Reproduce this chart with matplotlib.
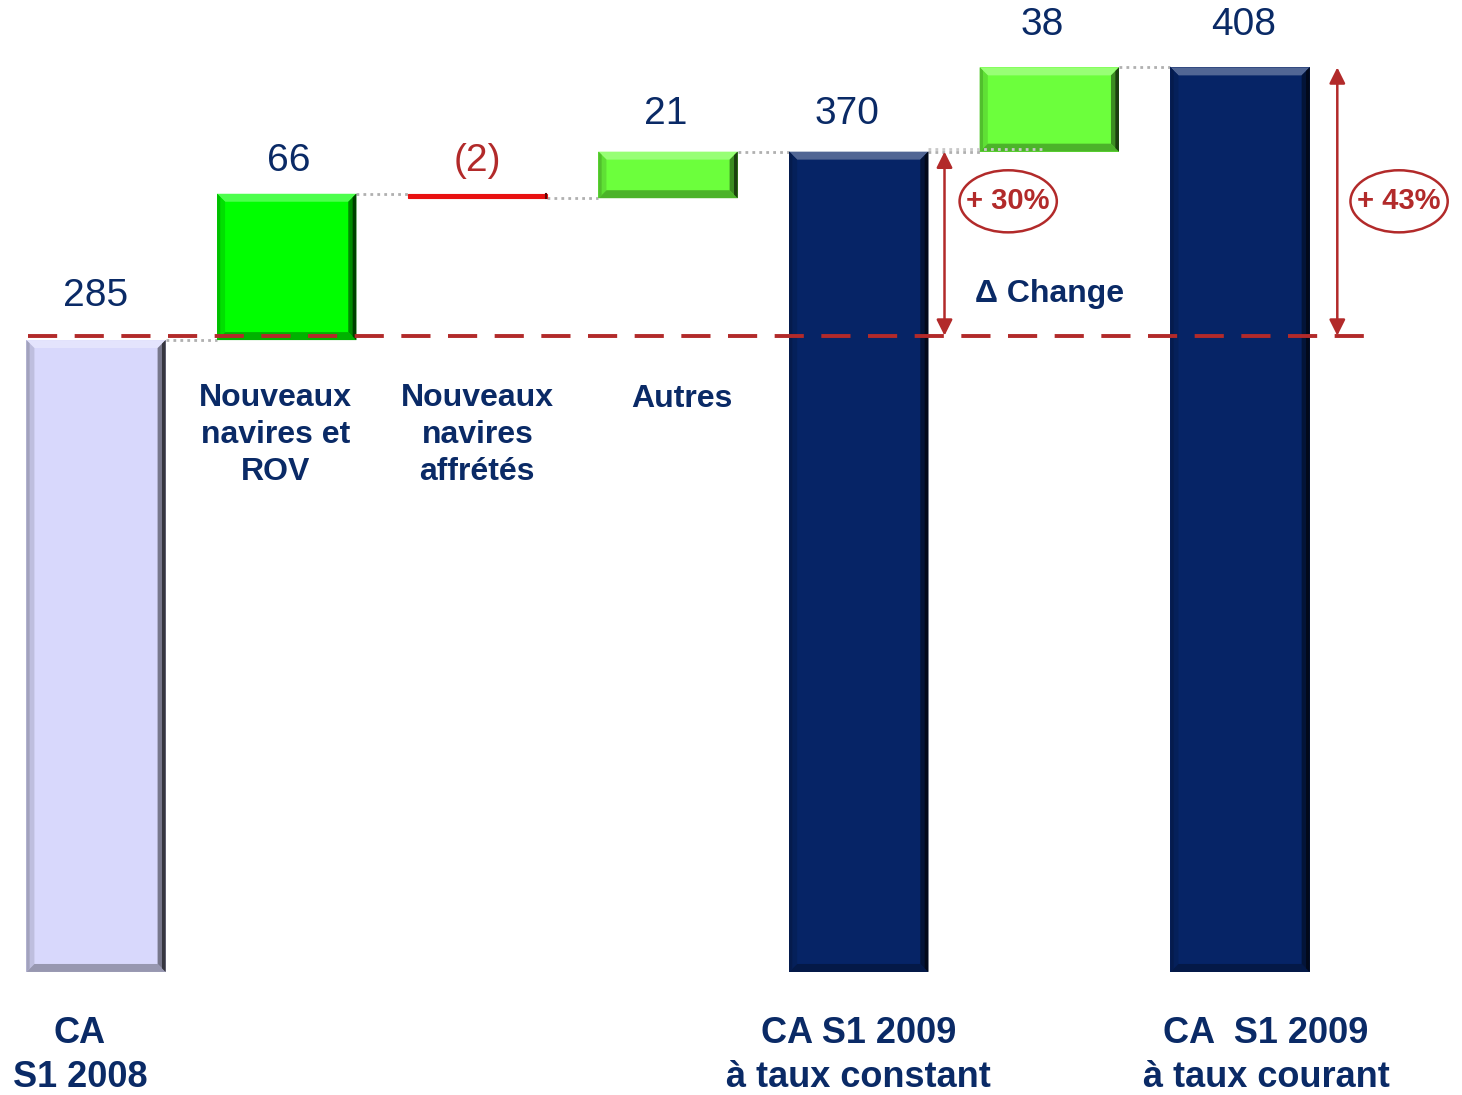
import matplotlib
matplotlib.use("Agg")
import matplotlib.pyplot as plt
from matplotlib.patches import Ellipse
from matplotlib.colors import to_rgb

plt.rcParams['font.family'] = ['Liberation Sans', 'DejaVu Sans']

# ---- data ----
steps = ["CA\nS1 2008", "Nouveaux\nnavires et\nROV", "Nouveaux\nnavires\naffrétés", "Autres",
         "CA S1 2009\nà taux constant", "Δ Change", "CA  S1 2009\nà taux courant"]
values = [285, 66, -2, 21, 370, 38, 408]
kinds = ["total", "delta", "delta", "delta", "total", "delta", "total"]
value_labels = ["285", "66", "(2)", "21", "370", "38", "408"]
pct_labels = ["+ 30%", "+ 43%"]

NAVY = "#0a2a66"
RED = "#b22a2a"
colors = ["#d8d8fc", "#00ff00", "#e81010", "#6cff3c", "#062466", "#6cff3c", "#062466"]

fig = plt.figure(figsize=(14.62, 10.95), dpi=100)
ax = fig.add_axes([0, 0, 1, 1])
ax.set_xlim(-0.5035, 7.164)
ax.set_ylim(-55.5, 438.4)
ax.axis("off")


def shade(c, f):
    r, g, b = to_rgb(c)
    if f >= 0:
        return (r + (1 - r) * f, g + (1 - g) * f, b + (1 - b) * f)
    f = -f
    return (r * (1 - f), g * (1 - f), b * (1 - f))


def bevel_bar(xc, y0, y1, width, color, z=3):
    x0, x1 = xc - width / 2, xc + width / 2
    ax.bar(xc, y1 - y0, bottom=y0, width=width, color=color,
           edgecolor=color if y1 - y0 < 5 else "none", linewidth=0.8, zorder=z)
    if y1 - y0 < 5:
        ax.plot([x1 - 0.005, x1 - 0.005], [y0, y1], color=shade(color, -0.6), lw=1.5, zorder=z + 0.1)
        return
    bx, by = 0.042, 3.6
    # top
    ax.fill([x0, x1, x1 - bx, x0 + bx], [y1, y1, y1 - by, y1 - by],
            color=shade(color, 0.3), lw=0, zorder=z + 0.1)
    # left
    ax.fill([x0, x0 + bx, x0 + bx, x0], [y0, y0 + by, y1 - by, y1],
            color=shade(color, -0.12), lw=0, zorder=z + 0.1)
    ax.fill([x0, x0 + bx * 0.4, x0 + bx * 0.4, x0], [y0, y0 + by * 0.4, y1 - by * 0.4, y1],
            color=shade(color, -0.25), lw=0, zorder=z + 0.15)
    # bottom
    ax.fill([x0, x1, x1 - bx, x0 + bx], [y0, y0, y0 + by, y0 + by],
            color=shade(color, -0.3), lw=0, zorder=z + 0.1)
    # right
    ax.fill([x1, x1 - bx, x1 - bx, x1], [y0, y0 + by, y1 - by, y1],
            color=shade(color, -0.45), lw=0, zorder=z + 0.2)
    ax.fill([x1, x1 - bx * 0.45, x1 - bx * 0.45, x1], [y0, y0 + by * 0.45, y1 - by * 0.45, y1],
            color=shade(color, -0.75), lw=0, zorder=z + 0.25)


w = 0.73
bottoms, tops, level_after = [], [], []
level = 0
for v, k in zip(values, kinds):
    if k == "total":
        b, t = 0, v
        level = v
    else:
        b, t = level, level + v
        level = level + v
    bottoms.append(min(b, t)); tops.append(max(b, t)); level_after.append(level)

xs = list(range(len(values)))
for i in xs:
    bevel_bar(i, bottoms[i], tops[i], w, colors[i])

# connectors
for i in range(len(values) - 1):
    ax.plot([i + w / 2, i + 1 - w / 2], [level_after[i], level_after[i]], color="#b0b0b0",
            lw=2, ls=(0, (1, 1.5)), zorder=2)
ax.plot([4 + w / 2, 5 - 0.02], [level_after[4] + 1, level_after[4] + 1], color="#c8c8c8",
        lw=2, ls=(0, (1, 1.5)), zorder=5)

# value labels
label_off = [20, 15, 15, 17, 17, 19, 19]
label_dx = [0, 0.01, 0, -0.01, -0.06, -0.04, 0.02]
for i in xs:
    base = level_after[i - 1] if values[i] < 0 else tops[i]
    ax.text(i + label_dx[i], base + label_off[i], value_labels[i], ha="center", va="center",
            fontsize=28, color=RED if values[i] < 0 else NAVY, zorder=5)

# middle category labels
for i, dx in [(1, -0.058), (2, 0.0)]:
    ax.text(i + dx, 242.2, steps[i], ha="center", va="center",
            fontsize=23, fontweight="bold", color=NAVY, linespacing=1.32)
ax.text(3 + 0.073, 258.6, steps[3], ha="center", va="center",
        fontsize=23, fontweight="bold", color=NAVY)
ax.text(5.0, 306, steps[5], ha="center", va="center", fontsize=23, fontweight="bold", color=NAVY)

# bottom labels
for i, dx in [(0, -0.084), (4, 0.0), (6, 0.136)]:
    ax.text(i + dx, -37.8, steps[i], ha="center", va="center", fontsize=26,
            fontweight="bold", color=NAVY, linespacing=1.34)

# dashed reference line
ax.plot([-0.357, 6.72], [values[0] + 2, values[0] + 2], color=RED, lw=2.8,
        dashes=(7.5, 4.5), zorder=6)

# arrows
for x, top in [(4.45, values[4]), (6.51, values[6])]:
    ax.annotate("", xy=(x, top), xytext=(x, values[0] + 2),
                arrowprops=dict(arrowstyle="<|-|>", color=RED, lw=1.8,
                                mutation_scale=24, shrinkA=0, shrinkB=0), zorder=7)

# percent ellipses
for cx, txt in [(4.784, pct_labels[0]), (6.834, pct_labels[1])]:
    e = Ellipse((cx, 347.6), width=0.51, height=28, fill=False, edgecolor=RED, lw=1.8, zorder=7)
    ax.add_patch(e)
    ax.text(cx, 347.6, txt, ha="center", va="center", fontsize=21, fontweight="bold",
            color=RED, zorder=8)

fig.savefig("out.png", dpi=100)
